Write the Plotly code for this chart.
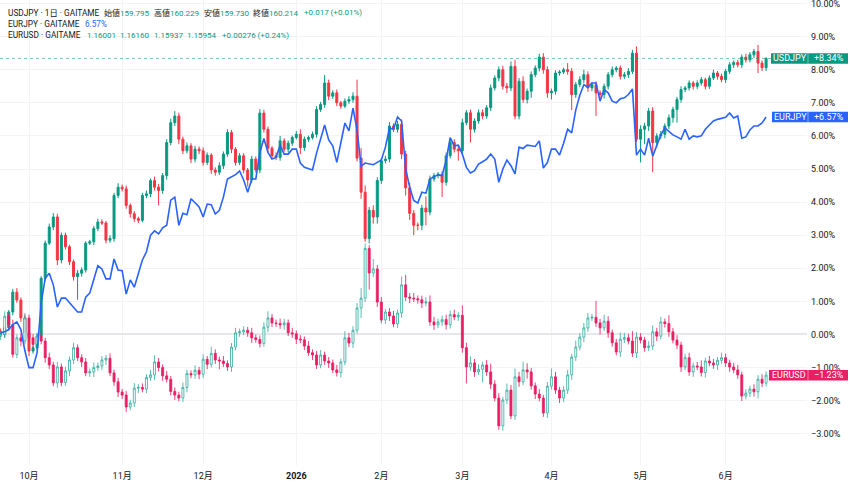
import plotly.graph_objects as go
import pandas as pd

# ---------------- data (percent change vs. first bar) ----------------
holidays = ["2026-01-01"]
dates = [d.strftime("%Y-%m-%d") for d in pd.bdate_range("2025-09-22", "2026-06-15")
         if d.strftime("%Y-%m-%d") not in holidays]

usdjpy_close = [
    0.00, 0.20, 0.68, 1.28, 1.04, 0.50, 0.05, -0.50, -0.40, -0.05,
    1.70, 2.76, 3.25, 3.55, 2.25, 3.00, 2.65, 2.20, 1.75, 1.85,
    1.95, 2.76, 2.80, 3.20, 3.40, 3.37, 2.85, 2.90, 4.20, 4.45,
    4.40, 3.90, 3.65, 3.50, 3.45, 4.20, 4.25, 4.65, 4.45, 4.35,
    4.80, 5.80, 6.40, 6.60, 5.90, 5.55, 5.70, 5.30, 5.60, 5.55,
    5.20, 5.42, 4.97, 4.90, 5.10, 5.45, 6.10, 5.60, 5.20, 5.40,
    4.97, 4.67, 5.30, 4.97, 6.69, 6.20, 5.63, 5.40, 5.35, 5.85,
    5.60, 5.78, 5.95, 6.05, 5.65, 5.90, 5.95, 6.05, 6.80, 6.95,
    7.60, 7.20, 7.30, 7.00, 6.90, 7.05, 7.10, 7.20, 5.33, 4.30,
    2.90, 3.75, 3.55, 4.65, 5.25, 5.30, 6.30, 6.20, 6.35, 5.45,
    4.43, 3.66, 3.30, 3.30, 3.82, 3.70, 4.70, 4.80, 4.85, 4.60,
    5.40, 5.80, 5.60, 5.55, 6.40, 6.70, 6.20, 6.45, 6.70, 6.60,
    6.85, 7.45, 7.75, 8.00, 7.50, 7.45, 8.10, 6.60, 7.65, 7.10,
    7.35, 7.85, 8.05, 8.38, 8.00, 7.30, 7.35, 7.90, 7.93, 8.00,
    7.95, 7.25, 7.55, 7.70, 7.85, 7.45, 7.55, 7.30, 7.25, 7.50,
    7.85, 8.00, 8.05, 7.80, 7.85, 7.95, 8.50, 5.90, 6.20, 6.30,
    6.75, 5.80, 6.00, 6.05, 6.30, 6.55, 6.80, 7.10, 7.40, 7.45,
    7.60, 7.50, 7.60, 7.70, 7.50, 7.75, 7.90, 7.80, 7.70, 7.95,
    8.15, 8.22, 8.15, 8.38, 8.30, 8.45, 8.55, 8.20, 8.06, 8.34,
]
usdjpy_first_open = 0.10
usdjpy_upper_wick = [  # hundredths of a percent
    8, 10, 6, 10, 12, 8, 10, 8, 6, 8,
    6, 8, 10, 12, 10, 8, 8, 6, 6, 10,
    8, 6, 6, 8, 10, 8, 6, 10, 8, 12,
    8, 10, 6, 8, 6, 8, 10, 6, 12, 10,
    8, 10, 12, 15, 10, 8, 10, 8, 10, 8,
    10, 8, 6, 8, 10, 8, 10, 8, 6, 8,
    8, 6, 10, 8, 12, 10, 8, 6, 10, 15,
    8, 8, 6, 10, 15, 8, 6, 8, 10, 8,
    24, 10, 8, 10, 6, 8, 10, 12, 50, 30,
    20, 10, 15, 10, 8, 10, 12, 8, 10, 15,
    10, 15, 10, 8, 10, 35, 10, 8, 6, 8,
    10, 8, 10, 10, 12, 8, 10, 8, 10, 10,
    8, 10, 8, 10, 12, 10, 15, 20, 10, 15,
    8, 10, 8, 10, 12, 10, 8, 8, 6, 6,
    20, 10, 8, 10, 15, 10, 8, 10, 8, 8,
    8, 10, 6, 8, 8, 10, 10, 20, 12, 10,
    10, 12, 8, 10, 8, 10, 8, 8, 10, 6,
    8, 6, 8, 8, 6, 8, 10, 6, 8, 8,
    8, 6, 8, 8, 10, 8, 8, 20, 8, 4,
]
usdjpy_lower_wick = [
    8, 10, 8, 10, 8, 12, 10, 15, 8, 6,
    10, 8, 6, 10, 15, 10, 8, 10, 12, 70,
    10, 8, 6, 10, 8, 6, 10, 8, 10, 8,
    8, 10, 12, 10, 8, 6, 8, 10, 10, 45,
    10, 12, 8, 10, 15, 10, 8, 12, 10, 10,
    10, 8, 12, 10, 8, 10, 8, 12, 10, 8,
    10, 20, 10, 8, 10, 10, 12, 10, 8, 10,
    8, 10, 8, 6, 20, 10, 8, 6, 10, 8,
    10, 12, 8, 10, 8, 6, 8, 10, 10, 20,
    10, 15, 20, 20, 10, 8, 10, 8, 10, 15,
    23, 20, 30, 15, 15, 40, 10, 8, 8, 45,
    10, 8, 10, 30, 10, 8, 40, 10, 8, 10,
    8, 10, 8, 10, 10, 15, 10, 10, 10, 10,
    12, 20, 8, 10, 12, 15, 20, 10, 8, 6,
    10, 47, 10, 8, 10, 12, 10, 70, 10, 12,
    10, 8, 8, 10, 8, 10, 8, 8, 70, 45,
    15, 90, 15, 10, 12, 10, 15, 40, 10, 8,
    8, 10, 8, 8, 10, 8, 6, 10, 8, 10,
    8, 10, 8, 10, 8, 8, 10, 30, 10, 10,
]

eurusd_close = [
    0.00, 0.55, 0.30, -0.60, -0.10, -0.20, 0.50, -0.10, -0.30, -0.05,
    -0.20, -0.70, -0.92, -1.46, -0.98, -1.45, -1.10, -0.77, -0.40, -0.70,
    -0.83, -1.16, -1.13, -1.00, -0.95, -0.77, -0.72, -1.16, -1.43, -1.74,
    -1.83, -2.19, -2.07, -1.62, -1.60, -1.65, -1.30, -1.22, -0.83, -1.00,
    -1.25, -1.35, -1.72, -1.83, -1.92, -1.60, -1.18, -1.22, -1.08, -1.20,
    -0.75, -0.90, -0.57, -0.77, -0.80, -0.88, -0.98, -0.38, 0.05, 0.08,
    0.13, 0.05, -0.10, -0.15, -0.27, 0.22, 0.50, 0.35, 0.33, 0.29,
    0.35, 0.05, 0.02, -0.14, -0.16, -0.35, -0.55, -0.62, -0.92, -0.62,
    -0.80, -0.86, -1.07, -1.15, -0.83, -0.10, -0.26, 0.13, 0.80, 1.10,
    2.60, 1.86, 1.98, 0.98, 0.44, 0.68, 0.56, 0.32, 0.65, 1.50,
    1.13, 1.10, 1.08, 1.05, 0.95, 0.98, 0.38, 0.29, 0.38, 0.45,
    0.30, 0.60, 0.53, 0.58, -0.40, -0.98, -0.86, -1.13, -1.05, -0.92,
    -1.13, -1.50, -1.92, -2.76, -1.98, -1.68, -2.46, -1.28, -1.43, -1.07,
    -1.13, -1.55, -1.80, -1.92, -2.37, -1.56, -1.28, -1.68, -1.92, -1.68,
    -1.22, -0.68, -0.38, -0.08, 0.20, 0.50, 0.52, 0.35, 0.20, 0.40,
    0.05, -0.25, -0.53, -0.14, -0.10, -0.20, -0.56, -0.08, -0.17, -0.40,
    -0.35, 0.08, -0.05, 0.38, 0.33, 0.08, -0.17, -0.32, -0.98, -0.70,
    -1.13, -0.95, -0.98, -1.15, -0.80, -0.86, -0.92, -0.78, -0.70, -0.86,
    -0.98, -1.07, -1.22, -1.86, -1.77, -1.65, -1.73, -1.35, -1.47, -1.23,
]
eurusd_first_open = -0.05
eurusd_upper_wick = [
    10, 15, 10, 15, 10, 12, 15, 10, 12, 10,
    12, 10, 15, 10, 15, 10, 12, 10, 15, 10,
    10, 12, 10, 15, 10, 12, 10, 15, 10, 12,
    10, 12, 10, 15, 10, 12, 10, 15, 20, 12,
    10, 15, 10, 12, 10, 15, 12, 10, 15, 10,
    15, 10, 20, 12, 10, 15, 10, 12, 15, 10,
    12, 10, 15, 10, 12, 15, 20, 12, 10, 15,
    12, 10, 15, 10, 12, 10, 15, 10, 12, 15,
    10, 12, 10, 15, 10, 20, 15, 12, 15, 30,
    15, 10, 30, 12, 15, 10, 12, 15, 10, 25,
    30, 12, 15, 10, 12, 15, 20, 15, 10, 12,
    15, 12, 15, 10, 30, 15, 20, 12, 15, 10,
    15, 25, 12, 15, 10, 20, 15, 25, 15, 25,
    20, 12, 10, 15, 10, 12, 25, 15, 10, 12,
    15, 10, 20, 12, 15, 15, 10, 50, 12, 20,
    15, 10, 12, 20, 15, 12, 30, 15, 12, 10,
    15, 20, 12, 15, 10, 25, 12, 15, 10, 12,
    15, 10, 12, 20, 10, 15, 12, 10, 15, 12,
    10, 12, 15, 10, 12, 10, 15, 12, 15, 12,
]
eurusd_lower_wick = [
    12, 10, 15, 10, 12, 15, 10, 12, 10, 15,
    10, 15, 12, 10, 15, 12, 10, 15, 12, 10,
    15, 10, 12, 15, 10, 12, 15, 10, 12, 15,
    12, 15, 10, 12, 15, 10, 12, 10, 15, 12,
    15, 10, 12, 15, 10, 12, 15, 10, 12, 15,
    12, 15, 10, 12, 25, 10, 12, 15, 10, 12,
    10, 12, 15, 10, 12, 10, 15, 12, 10, 12,
    15, 10, 12, 15, 10, 12, 10, 15, 12, 10,
    12, 15, 10, 12, 15, 10, 12, 15, 10, 30,
    12, 50, 12, 15, 10, 12, 15, 10, 12, 15,
    12, 15, 10, 12, 15, 10, 12, 15, 10, 12,
    15, 12, 10, 12, 15, 50, 12, 15, 10, 40,
    12, 15, 10, 12, 15, 12, 10, 12, 15, 10,
    20, 12, 15, 10, 12, 15, 10, 12, 15, 12,
    12, 15, 12, 10, 15, 12, 10, 12, 20, 10,
    15, 12, 10, 15, 12, 10, 12, 15, 10, 12,
    10, 12, 15, 10, 12, 15, 10, 12, 15, 10,
    12, 15, 10, 12, 15, 10, 12, 15, 10, 12,
    15, 10, 12, 15, 10, 12, 15, 20, 12, 10,
]

eurjpy_close = [
    0.05, 0.08, 0.15, 0.30, 0.38, 0.15, -0.50, -1.00, -1.00, -0.55,
    0.95, 1.70, 1.85, 1.50, 0.83, 1.10, 1.10, 0.95, 0.83, 0.68,
    0.68, 1.13, 1.25, 1.70, 2.08, 1.98, 1.68, 1.68, 2.28, 1.95,
    1.93, 1.22, 1.65, 1.43, 1.85, 2.25, 2.50, 3.00, 3.13, 3.04,
    3.22, 3.30, 4.06, 4.15, 3.30, 3.66, 3.62, 4.10, 3.98, 3.85,
    3.55, 3.94, 3.92, 3.64, 3.75, 4.15, 4.70, 4.76, 4.83, 4.94,
    4.67, 4.30, 4.70, 4.70, 5.50, 5.92, 5.50, 5.30, 5.35, 5.72,
    5.45, 5.45, 5.60, 5.60, 5.18, 5.05, 5.00, 4.97, 5.48, 5.90,
    6.33, 5.88, 5.70, 5.20, 5.80, 6.39, 6.15, 6.84, 6.18, 5.09,
    5.18, 5.15, 5.13, 5.20, 5.27, 5.66, 6.24, 6.20, 6.57, 6.45,
    5.00, 4.45, 4.05, 3.97, 4.30, 4.27, 4.70, 4.77, 4.82, 4.80,
    5.27, 5.95, 5.70, 5.72, 5.45, 5.05, 4.88, 4.95, 5.15, 5.22,
    5.30, 5.45, 5.30, 4.60, 5.00, 5.27, 5.10, 4.85, 5.66, 5.62,
    5.72, 5.70, 5.68, 5.85, 5.03, 5.20, 5.60, 5.60, 5.42, 5.78,
    6.20, 6.09, 6.78, 7.23, 7.55, 7.47, 7.60, 7.60, 7.05, 7.40,
    7.30, 7.05, 7.00, 7.12, 7.15, 7.25, 7.42, 5.42, 5.60, 5.42,
    5.93, 5.39, 5.70, 6.03, 6.24, 6.12, 6.03, 5.97, 5.90, 6.20,
    5.90, 6.00, 5.97, 6.00, 6.20, 6.33, 6.45, 6.50, 6.54, 6.56,
    6.69, 6.54, 6.60, 5.93, 5.97, 6.18, 6.30, 6.30, 6.39, 6.57,
]

month_labels = ["10月", "11月", "12月", "<b>2026</b>", "2月", "3月", "4月", "5月", "6月"]
month_keys = ["2025-10", "2025-11", "2025-12", "2026-01", "2026-02", "2026-03",
              "2026-04", "2026-05", "2026-06"]

# legend items: (line, text pieces [(text, colour key)])
legend_items = [
    (0, [("USDJPY · 1日 · GAITAME", "dark")]),
    (0, [("始値", "dark"), ("159.795", "up")]),
    (0, [("高値", "dark"), ("160.229", "up")]),
    (0, [("安値", "dark"), ("159.730", "up")]),
    (0, [("終値", "dark"), ("160.214", "up")]),
    (0, [("+0.017 (+0.01%)", "up")]),
    (1, [("EURJPY · GAITAME", "dark")]),
    (1, [("6.57%", "blue")]),
    (2, [("EURUSD · GAITAME", "dark")]),
    (2, [("1.16001", "up")]),
    (2, [("1.16160", "up")]),
    (2, [("1.15937", "up")]),
    (2, [("1.15954", "up")]),
    (2, [("+0.00276 (+0.24%)", "up")]),
]
legend_item_x = [6, 102, 152, 202, 251, 302, 6, 83, 6, 85, 118, 152, 185, 220]  # px positions
legend_item_size = [8.3, 8, 8, 8, 8, 8, 8.3, 8.2, 8.3, 8, 8, 8, 8, 8]

# ---------------- styling ----------------
UP = "#089981"
DOWN = "#F23645"
BLUE = "#2962FF"
PINK = "#E91E63"
DARK = "#131722"
GRID = "#F2F3F5"
FONT = "Roboto, 'Noto Sans CJK JP', sans-serif"

W, H = 850, 484
PLOT_R = 807      # right edge of plot area, px
PLOT_B = 465      # bottom edge of plot area, px
Y_MIN, Y_MAX = -3.943, 10.106
X_MIN, X_MAX = -0.16, 199.1


def build_ohlc(close, first_open, up_w, lo_w):
    opens = [first_open] + close[:-1]
    highs = [max(o, c) + u / 100 for o, c, u in zip(opens, close, up_w)]
    lows = [min(o, c) - l / 100 for o, c, l in zip(opens, close, lo_w)]
    return opens, highs, lows


uo, uh, ul = build_ohlc(usdjpy_close, usdjpy_first_open, usdjpy_upper_wick, usdjpy_lower_wick)
eo, eh, el = build_ohlc(eurusd_close, eurusd_first_open, eurusd_upper_wick, eurusd_lower_wick)

fig = go.Figure()
fig.add_trace(go.Candlestick(
    x=dates, open=uo, high=uh, low=ul, close=usdjpy_close, name="USDJPY",
    increasing=dict(line=dict(color=UP, width=1), fillcolor=UP),
    decreasing=dict(line=dict(color=DOWN, width=1), fillcolor=DOWN),
    hoverinfo="skip"))
fig.add_trace(go.Scatter(
    x=dates, y=eurjpy_close, mode="lines", name="EURJPY",
    line=dict(color=BLUE, width=1.6), hoverinfo="skip"))
fig.add_trace(go.Candlestick(
    x=dates, open=eo, high=eh, low=el, close=eurusd_close, name="EURUSD",
    increasing=dict(line=dict(color="rgba(38,166,154,0.75)", width=1), fillcolor="#FFFFFF"),
    decreasing=dict(line=dict(color="rgba(233,30,99,0.85)", width=1), fillcolor=PINK),
    hoverinfo="skip"))

tickvals = [next(d for d in dates if d.startswith(k)) for k in month_keys]


def px_x(px):
    return px / PLOT_R


def py(v):
    return (v - Y_MIN) / (Y_MAX - Y_MIN)


shapes = []
annotations = []

# last-price dotted line for USDJPY
shapes.append(dict(type="line", xref="paper", yref="y", x0=0, x1=px_x(771),
                   y0=usdjpy_close[-1], y1=usdjpy_close[-1],
                   line=dict(color=UP, width=1, dash="dot"), opacity=0.55))

# right-hand series labels
box_h = 10.5 / PLOT_B
for name, val, color, x0 in [("USDJPY", usdjpy_close[-1], UP, 771),
                             ("EURJPY", eurjpy_close[-1], BLUE, 772),
                             ("EURUSD", eurusd_close[-1], PINK, 769)]:
    yc = py(val)
    shapes.append(dict(type="rect", xref="paper", yref="paper",
                       x0=px_x(x0), x1=px_x(848), y0=yc - box_h / 2, y1=yc + box_h / 2,
                       fillcolor=color, line=dict(width=0), layer="above"))
    shapes.append(dict(type="line", xref="paper", yref="paper",
                       x0=px_x(808), x1=px_x(808), y0=yc - box_h / 2, y1=yc + box_h / 2,
                       line=dict(color="rgba(255,255,255,0.45)", width=1), layer="above"))
    sign = "+" if val >= 0 else "\u2212"
    annotations.append(dict(xref="paper", yref="paper", x=px_x((x0 + 808) / 2), y=yc,
                            text=name, showarrow=False, xanchor="center", yanchor="middle",
                            font=dict(family=FONT, size=9, color="white")))
    annotations.append(dict(xref="paper", yref="paper", x=px_x(828.5), y=yc,
                            text=f"{sign}{abs(val):.2f}%", showarrow=False,
                            xanchor="center", yanchor="middle",
                            font=dict(family=FONT, size=9, color="white")))

# top-left legend
col = {"dark": DARK, "up": UP, "blue": BLUE}
for (line_no, parts), xpx, fs in zip(legend_items, legend_item_x, legend_item_size):
    txt = "".join(f'<span style="color:{col[c]}">{t}</span>' for t, c in parts)
    annotations.append(dict(xref="paper", yref="paper", x=px_x(xpx), y=1 - (13 + 11 * line_no) / PLOT_B,
                            text=txt, showarrow=False, xanchor="left", yanchor="middle",
                            align="left", font=dict(family=FONT, size=fs, color=DARK)))

fig.update_layout(
    width=W, height=H,
    margin=dict(l=0, r=W - PLOT_R, t=0, b=H - PLOT_B),
    paper_bgcolor="white", plot_bgcolor="white",
    showlegend=False,
    shapes=shapes, annotations=annotations,
    font=dict(family=FONT, size=9, color=DARK),
    xaxis=dict(type="category", categoryorder="array", categoryarray=dates,
               range=[X_MIN, X_MAX], rangeslider=dict(visible=False),
               tickmode="array", tickvals=tickvals, ticktext=month_labels,
               showgrid=True, gridcolor=GRID, gridwidth=1, ticks="", showline=False,
               zeroline=False, tickfont=dict(size=9, color=DARK), ticklabelstandoff=4),
    yaxis=dict(side="right", range=[Y_MIN, Y_MAX], dtick=1, tick0=0, tickformat=".2f",
               ticksuffix="%", showgrid=True, gridcolor=GRID, gridwidth=1, ticks="",
               zeroline=True, zerolinecolor="#E6E7EA", zerolinewidth=2,
               showline=False, tickfont=dict(size=9, color=DARK), ticklabelstandoff=3,
               ticklabeloverflow="allow"),
)

fig.write_html("out.html")
